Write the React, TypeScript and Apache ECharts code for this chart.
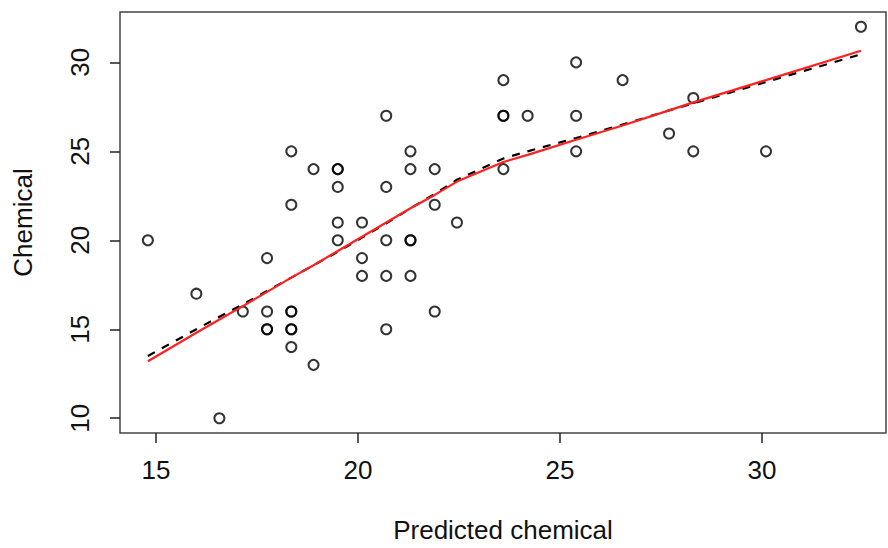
import React, { useEffect, useRef } from "react";
import * as echarts from "echarts";

const predicted = [
  14.8, 16.0, 16.57, 17.15, 17.75, 17.75, 17.75, 17.75, 18.35, 18.35, 18.35, 18.35,
  18.35, 18.35, 18.35, 18.9, 18.9, 19.5, 19.5, 19.5, 19.5, 19.5, 20.1, 20.1, 20.1,
  20.7, 20.7, 20.7, 20.7, 20.7, 21.3, 21.3, 21.3, 21.3, 21.3, 21.9, 21.9, 21.9, 22.45,
  23.6, 23.6, 23.6, 23.6, 24.2, 25.4, 25.4, 25.4, 26.55, 27.7, 28.3, 28.3, 30.1, 32.45,
];
const chemical = [
  20, 17, 10, 16, 19, 16, 15, 15, 25, 22, 16, 16,
  15, 15, 14, 24, 13, 24, 24, 23, 21, 20, 21, 19, 18,
  27, 23, 20, 18, 15, 25, 24, 20, 20, 18, 24, 22, 16, 21,
  29, 27, 27, 24, 27, 30, 27, 25, 29, 26, 28, 25, 25, 32,
];

const smoothX = [
  14.8, 16.0, 16.57, 17.15, 17.75, 18.35, 18.9, 19.5, 20.1, 20.7, 21.3, 21.9, 22.45,
  23.6, 24.2, 25.4, 26.55, 27.7, 28.3, 30.1, 32.45,
];
const redFit = [
  13.2, 14.8, 15.55, 16.3, 17.1, 17.9, 18.6, 19.4, 20.2, 21.0, 21.8, 22.55, 23.3,
  24.4, 24.8, 25.65, 26.45, 27.3, 27.75, 29.0, 30.65,
];
const dashedFit = [
  13.5, 15.0, 15.7, 16.4, 17.15, 17.9, 18.6, 19.35, 20.15, 20.95, 21.8, 22.6, 23.4,
  24.6, 25.0, 25.75, 26.5, 27.3, 27.7, 28.9, 30.45,
];

const xTicks = [15, 20, 25, 30];
const yTicks = [10, 15, 20, 25, 30];

const FONT = "Liberation Sans";

export default function App() {
  const ref = useRef<HTMLDivElement>(null);
  useEffect(() => {
    if (!ref.current) return;
    const chart = echarts.init(ref.current, null, { renderer: "svg" });
    const pts = predicted.map((x, i) => [x, chemical[i]]);
    const red = smoothX.map((x, i) => [x, redFit[i]]);
    const dash = smoothX.map((x, i) => [x, dashedFit[i]]);
    chart.setOption({
      animation: false,
      backgroundColor: "#fff",
      grid: {
        left: 120,
        top: 12,
        right: 2,
        bottom: 115,
        show: true,
        borderColor: "#444",
        borderWidth: 1.5,
      },
      xAxis: {
        type: "value",
        min: 14.11,
        max: 33.07,
        name: "Predicted chemical",
        nameLocation: "middle",
        nameGap: 84,
        nameTextStyle: { fontFamily: FONT, fontSize: 26, color: "#111" },
        axisLine: { show: false },
        splitLine: { show: false },
        axisTick: {
          show: true,
          customValues: xTicks,
          length: 10,
          lineStyle: { color: "#222", width: 1.5 },
        },
        axisLabel: {
          customValues: xTicks,
          fontFamily: FONT,
          fontSize: 26,
          color: "#111",
          margin: 24,
        },
      },
      yAxis: {
        type: "value",
        min: 9.17,
        max: 32.83,
        name: "Chemical",
        nameLocation: "middle",
        nameGap: 84,
        nameRotate: 90,
        nameTextStyle: { fontFamily: FONT, fontSize: 26, color: "#111" },
        axisLine: { show: false },
        splitLine: { show: false },
        axisTick: {
          show: true,
          customValues: yTicks,
          length: 10,
          lineStyle: { color: "#222", width: 1.5 },
        },
        axisLabel: {
          customValues: yTicks,
          rotate: 90,
          fontFamily: FONT,
          fontSize: 26,
          color: "#111",
          margin: 27,
        },
      },
      series: [
        {
          type: "scatter",
          data: pts,
          symbol: "circle",
          symbolSize: 10,
          itemStyle: { color: "rgba(0,0,0,0)", borderColor: "#000", borderWidth: 2 },
          z: 2,
        },
        {
          type: "line",
          data: dash,
          showSymbol: false,
          lineStyle: { color: "#000", width: 2.2, type: [8, 8] },
          z: 3,
        },
        {
          type: "line",
          data: red,
          showSymbol: false,
          lineStyle: { color: "#ff2020", width: 2.2 },
          z: 4,
        },
      ],
    });
    return () => chart.dispose();
  }, []);
  return (
    <div
      ref={ref}
      style={{ position: "absolute", left: 0, top: 0, width: 888, height: 548 }}
    />
  );
}
